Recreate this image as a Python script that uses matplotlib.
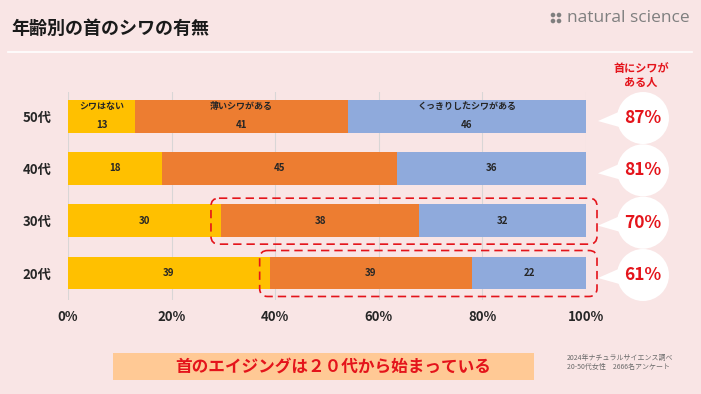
import matplotlib
matplotlib.use("Agg")
import matplotlib.pyplot as plt
from matplotlib.patches import FancyBboxPatch, Circle, Polygon, Rectangle
import numpy as np

plt.rcParams['font.family'] = ['Noto Sans CJK JP', 'DejaVu Sans']

# ---- data ----
ages = ['20代', '30代', '40代', '50代']
none_vals = [39.0, 29.6, 18.2, 13.0]
light_vals = [39.0, 38.2, 45.4, 41.0]
deep_vals = [22.0, 32.2, 36.4, 46.0]
series_names = ['シワはない', '薄いシワがある', 'くっきりしたシワがある']
wrinkle_pct = ['61%', '70%', '81%', '87%']
xticks = [0, 20, 40, 60, 80, 100]
xtick_labels = ['0%', '20%', '40%', '60%', '80%', '100%']
highlight_ages = ['20代', '30代']

BG = '#F9E5E5'
C_NONE = '#FFC000'
C_LIGHT = '#ED7D31'
C_DEEP = '#8FAADC'
RED = '#E4141B'

W, H = 701, 394
fig = plt.figure(figsize=(W / 100, H / 100), dpi=100)
fig.patch.set_facecolor(BG)

# main axes: x 68..586 px, y 92..300 px
ax = fig.add_axes([68 / W, 1 - 300 / H, (586 - 68) / W, (300 - 92) / H])
ax.set_facecolor('none')
ypos = np.arange(len(ages))
bh = 0.63
ax.set_xlim(0, 100)
ax.set_ylim(-0.516, 3.459)
for x in xticks:
    ax.axvline(x, color='#D9D6D6', lw=0.8, zorder=0)
left = np.zeros(len(ages))
for vals, col in zip([none_vals, light_vals, deep_vals], [C_NONE, C_LIGHT, C_DEEP]):
    ax.barh(ypos, vals, left=left, height=bh, color=col, zorder=2)
    for i, v in enumerate(vals):
        yoff = -0.17 if ages[i] == '50代' else 0
        ax.text(left[i] + v / 2, ypos[i] + yoff, f'{round(v):d}', ha='center', va='center',
                fontsize=7, fontweight='bold', color='#262626', zorder=3)
    left += np.array(vals)
# series names inside top bar
top = ages.index('50代')
lft = 0
for name, vals in zip(series_names, [none_vals, light_vals, deep_vals]):
    v = vals[top]
    ax.text(lft + v / 2, ypos[top] + 0.19, name, ha='center', va='center',
            fontsize=6.5, fontweight='bold', color='#262626', zorder=3)
    lft += v

ax.set_xticks(xticks)
ax.set_xticklabels(xtick_labels, fontsize=9.5, fontweight='bold', color='#262626')
ax.set_yticks(ypos)
ax.set_yticklabels(ages, fontsize=9.5, fontweight='bold', color='#262626')
ax.tick_params(length=0)
ax.tick_params(axis='x', pad=7)
ax.tick_params(axis='y', pad=12)
for s in ax.spines.values():
    s.set_visible(False)

# overlay axes in pixel coordinates
ov = fig.add_axes([0, 0, 1, 1])
ov.set_xlim(0, W)
ov.set_ylim(H, 0)
ov.axis('off')
ov.patch.set_alpha(0)

fig.canvas.draw()
def to_px(x, y):
    d = ax.transData.transform((x, y))
    p = ov.transData.inverted().transform(d)
    return p

# title, rule, logo
ov.text(11, 28, '年齢別の首のシワの有無', fontsize=13, fontweight='bold',
        color='#1a1a1a', va='center', ha='left')
ov.plot([8, 692], [52, 52], color='white', lw=1.2)
for dx in (0, 6):
    for dy in (0, 6):
        ov.add_patch(Circle((553 + dx, 15 + dy), 2.3, color='#7f7f7f', lw=0))
ov.text(567, 18, 'natural science', fontsize=12.5, color='#7f7f7f',
        family=['Open Sans', 'DejaVu Sans'], va='center', ha='left')

# header of right column
ov.text(641, 75, '首にシワが\nある人', fontsize=8, fontweight='bold', color=RED,
        ha='center', va='center', linespacing=1.1)

# bubbles
for i, lab in enumerate(wrinkle_pct):
    cx = 643
    cy = to_px(0, ypos[i])[1] + 2
    ov.add_patch(Polygon([[598, cy + 3], [cx - 20, cy - 8], [cx - 20, cy + 10]],
                         closed=True, color='white', lw=0))
    ov.add_patch(Circle((cx, cy), 26, color='white', lw=0))
    ov.text(cx, cy, lab, fontsize=12.5, fontweight='bold', color=RED,
            ha='center', va='center')

# dashed highlight boxes
for a in highlight_ages:
    i = ages.index(a)
    x0 = to_px(none_vals[i] - 2.0, 0)[0]
    x1 = 597
    y0 = to_px(0, ypos[i] + bh / 2)[1] - 6
    y1 = to_px(0, ypos[i] - bh / 2)[1] + 7
    ov.add_patch(FancyBboxPatch((x0, y0), x1 - x0, y1 - y0,
                                boxstyle='round,pad=0,rounding_size=8',
                                fill=False, ec=RED, lw=1.2, ls=(0, (5, 3))))

# bottom banner
ov.add_patch(Rectangle((113, 353), 421, 27, color='#FFC995', lw=0))
ov.text(333, 366.5, '首のエイジングは２０代から始まっている', fontsize=12,
        fontweight='bold', color=RED, ha='center', va='center')
ov.text(567, 358, '2024年ナチュラルサイエンス調べ', fontsize=5, color='#6a6a6a',
        ha='left', va='center')
ov.text(567, 367, '20-50代女性　2666名アンケート', fontsize=5, color='#6a6a6a',
        ha='left', va='center')

fig.savefig('out.png', dpi=100, facecolor=BG)
